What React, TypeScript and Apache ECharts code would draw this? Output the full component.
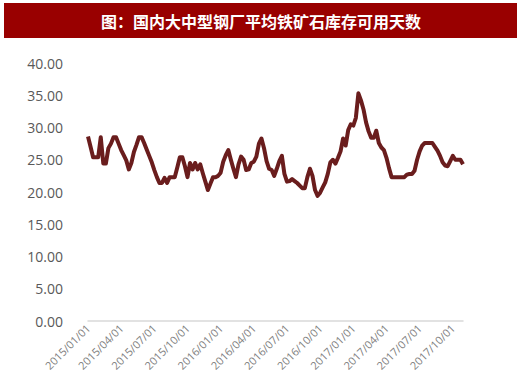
import React, { useEffect, useRef } from "react";
import * as echarts from "echarts";

// Weekly observations starting 2015/01/01 (index = week number)
const values: number[] = [
  28.6, 27.0, 25.4, 25.4, 25.4, 28.5, 24.4, 24.4, 26.8, 27.5,
  28.5, 28.5, 27.5, 26.5, 25.7, 24.9, 23.5, 24.5, 26.2, 27.3,
  28.5, 28.5, 27.6, 26.6, 25.6, 24.6, 23.4, 22.3, 21.4, 21.4,
  22.2, 21.4, 22.3, 22.3, 22.3, 23.8, 25.4, 25.4, 24.0, 22.3,
  24.5, 23.5, 24.5, 23.5, 24.3, 22.9, 21.6, 20.3, 21.3, 22.3,
  22.3, 22.5, 23.0, 24.7, 25.7, 26.5, 25.0, 23.6, 22.3, 24.3,
  25.5, 25.0, 23.4, 23.5, 24.5, 24.7, 25.5, 27.5, 28.3, 26.8,
  24.8, 23.6, 23.4, 22.5, 23.6, 24.8, 25.6, 22.8, 21.6, 21.7,
  22.0, 21.7, 21.4, 21.0, 20.6, 20.6, 22.3, 23.6, 22.5, 20.3,
  19.4, 19.9, 20.7, 21.5, 22.8, 24.6, 25.0, 24.4, 25.3, 26.3,
  28.3, 27.2, 29.6, 30.5, 30.3, 31.5, 35.3, 34.2, 32.8, 30.8,
  29.4, 28.4, 28.4, 29.5, 27.6, 26.9, 26.5, 25.3, 23.7, 22.3,
  22.3, 22.3, 22.3, 22.3, 22.3, 22.7, 22.8, 22.8, 23.3, 25.0,
  26.3, 27.2, 27.6, 27.6, 27.6, 27.6, 27.0, 26.4, 25.6, 24.6,
  24.1, 24.0, 24.8, 25.6, 25.0, 25.0, 25.0, 24.3,
];

const tickLabels: string[] = [
  "2015/01/01", "2015/04/01", "2015/07/01", "2015/10/01",
  "2016/01/01", "2016/04/01", "2016/07/01", "2016/10/01",
  "2017/01/01", "2017/04/01", "2017/07/01", "2017/10/01",
];

const yTicks: number[] = [0, 5, 10, 15, 20, 25, 30, 35, 40];

const titleText = "图：国内大中型钢厂平均铁矿石库存可用天数";

const WEEKS_PER_QUARTER = 13;

export default function App() {
  const ref = useRef<HTMLDivElement>(null);

  useEffect(() => {
    if (!ref.current) return;
    const chart = echarts.init(ref.current, undefined, { renderer: "svg" });
    const seriesData = values.map((v, i) => [i, v]);
    chart.setOption({
      animation: false,
      backgroundColor: "#ffffff",
      graphic: [
        {
          type: "rect",
          shape: { x: 4, y: 3, width: 513, height: 35 },
          style: { fill: "#990000" },
          silent: true,
        },
        {
          type: "text",
          x: 261,
          y: 21,
          style: {
            text: titleText,
            fill: "#ffffff",
            font: 'bold 16px "Noto Sans CJK SC"',
            align: "center",
            verticalAlign: "middle",
          },
          silent: true,
        },
      ],
      grid: {
        left: 88,
        right: 57,
        top: 63,
        bottom: 61,
        containLabel: false,
      },
      xAxis: {
        type: "value",
        min: 0,
        max: values.length - 1,
        interval: WEEKS_PER_QUARTER,
        splitLine: { show: false },
        axisTick: { show: false },
        axisLine: { show: true, onZero: false, lineStyle: { color: "#d9d9d9", width: 1.5 } },
        axisLabel: {
          rotate: 45,
          margin: 5,
          color: "#7f7f7f",
          fontSize: 11,
          fontFamily: "Open Sans",
          showMaxLabel: false,
          formatter: (v: number) => {
            const q = v / WEEKS_PER_QUARTER;
            return Number.isInteger(q) && tickLabels[q] ? tickLabels[q] : "";
          },
        },
      },
      yAxis: {
        type: "value",
        min: yTicks[0],
        max: yTicks[yTicks.length - 1],
        interval: 5,
        splitLine: { show: false },
        axisTick: { show: false },
        axisLine: { show: false },
        axisLabel: {
          margin: 25,
          color: "#595959",
          fontSize: 14,
          fontFamily: "Open Sans",
          formatter: (v: number) => v.toFixed(2),
        },
      },
      series: [
        {
          type: "line",
          data: seriesData,
          showSymbol: false,
          symbol: "none",
          lineStyle: { color: "#6a1d1d", width: 4, join: "round" },
        },
      ],
    });
    return () => chart.dispose();
  }, []);

  return (
    <div
      ref={ref}
      style={{ position: "fixed", left: 0, top: 0, width: 520, height: 382, background: "#fff" }}
    />
  );
}
